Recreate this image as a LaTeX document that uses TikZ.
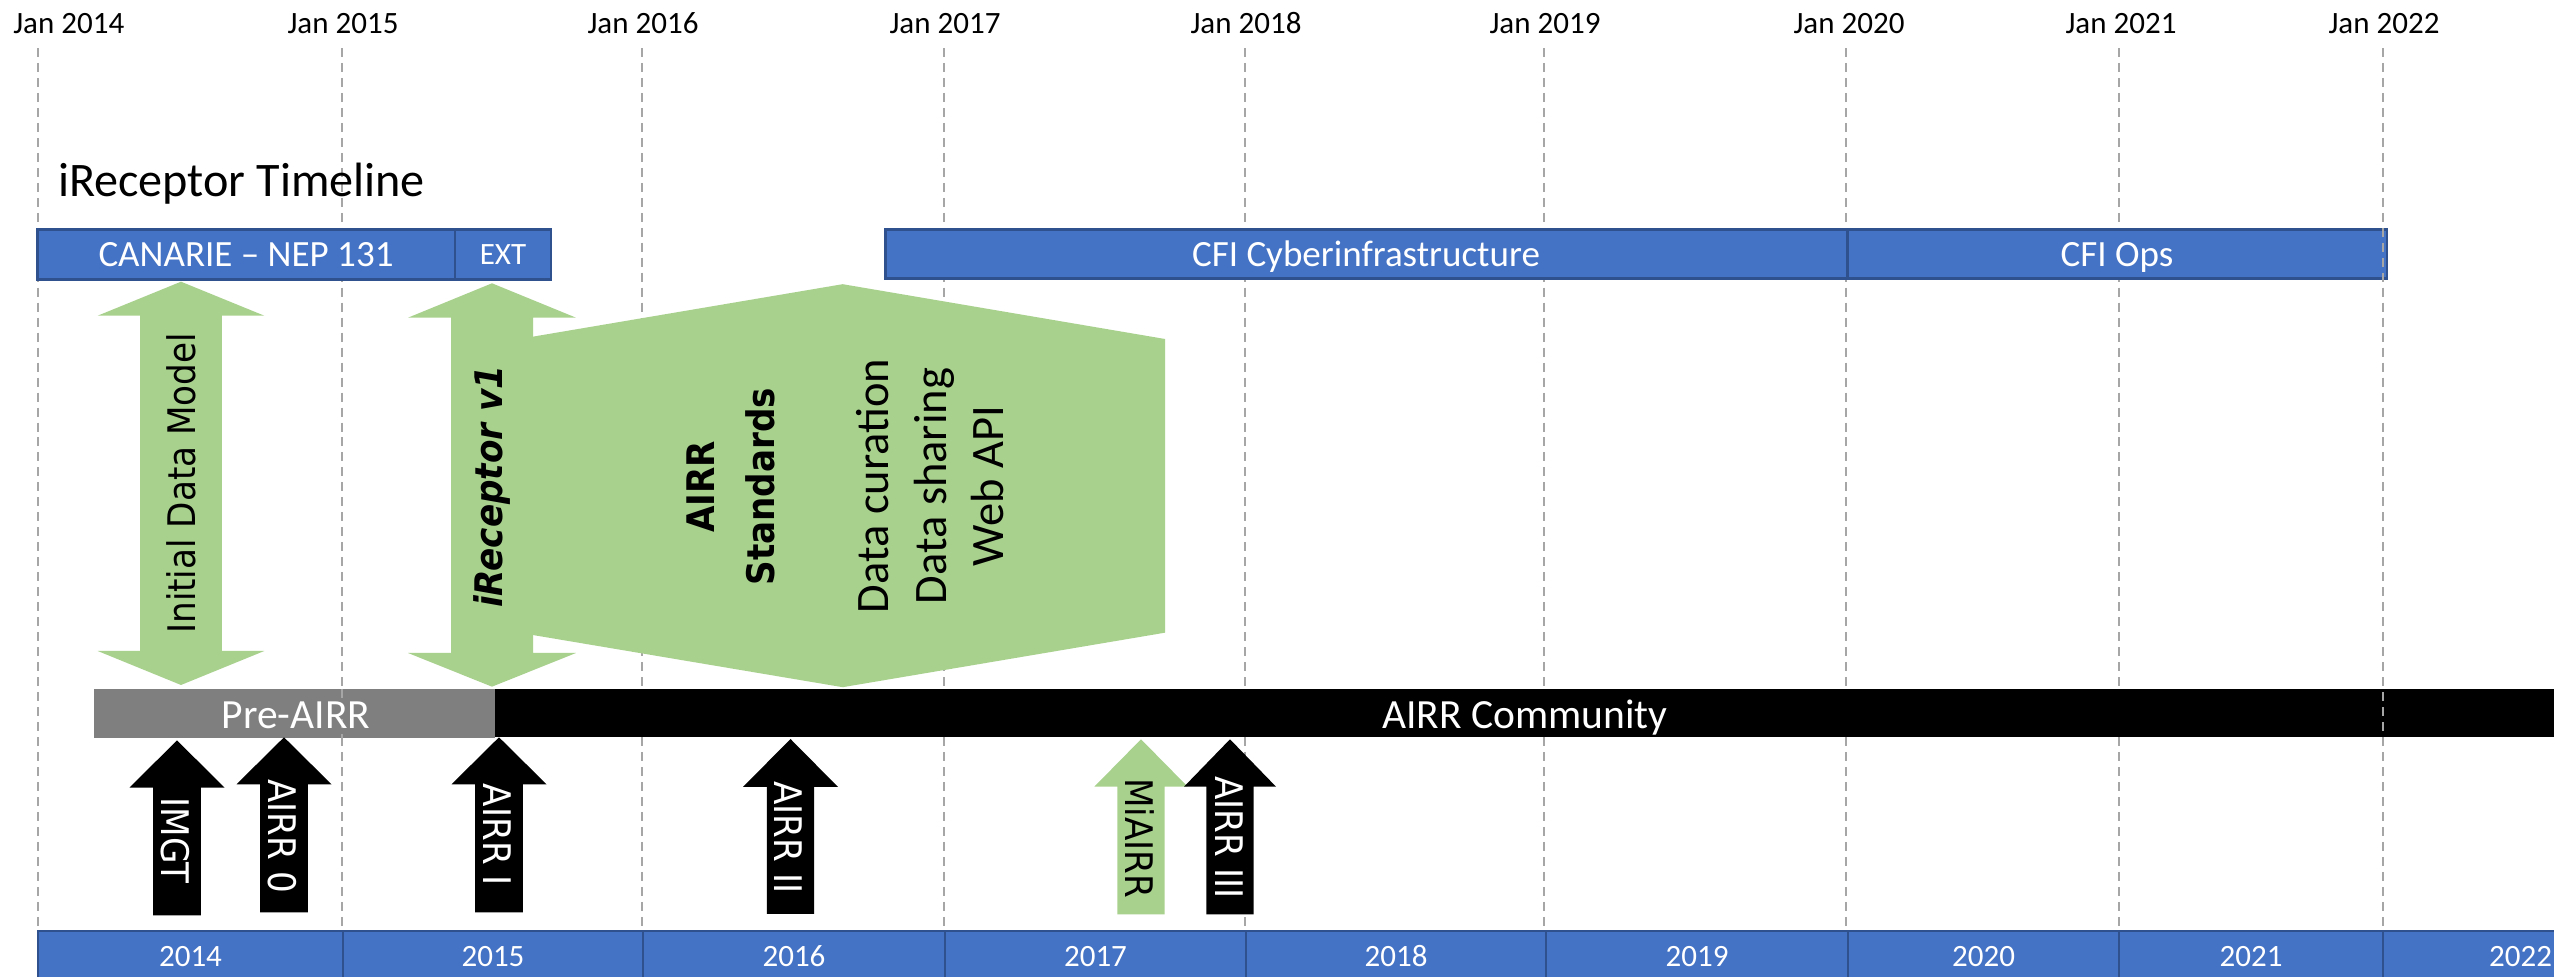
\documentclass[tikz,border=0pt]{standalone}
\usepackage{fontspec}
\setmainfont{Carlito}
\newfontfamily\arrfont[FakeStretch=0.9]{DejaVu Sans}
\definecolor{cblue}{HTML}{4472C4}
\definecolor{cblueb}{HTML}{2F528F}
\definecolor{cgreen}{HTML}{A9D18E}
\definecolor{cgray}{HTML}{7F7F7F}
\definecolor{cdash}{HTML}{A6A6A6}
% up arrow: fill, cx, apex y, head base y, bottom y, half head, half shaft
\newcommand{\UpArr}[7]{\fill[#1] (#2,#3) -- (#2+#6,#4) -- (#2+#7,#4) -- (#2+#7,#5) -- (#2-#7,#5) -- (#2-#7,#4) -- (#2-#6,#4) -- cycle;}
% double arrow: cx, top, top base, bottom base, bottom, half head, half shaft
\newcommand{\DblArr}[7]{\fill[cgreen] (#1,#2) -- (#1+#6,#3) -- (#1+#7,#3) -- (#1+#7,#4) -- (#1+#6,#4) -- (#1,#5) -- (#1-#6,#4) -- (#1-#7,#4) -- (#1-#7,#3) -- (#1-#6,#3) -- cycle;}
\begin{document}
\begin{tikzpicture}[x=0.01cm,y=-0.01cm,
  lbl/.style={font=\fontsize{8.82pt}{10pt}\selectfont, inner sep=0, anchor=base},
  bartxt/.style={font=\fontsize{10.53pt}{12pt}\selectfont, text=white, inner sep=0, anchor=base},
  bigbartxt/.style={font=\fontsize{11.81pt}{14pt}\selectfont, text=white, inner sep=0, anchor=base},
  yrtxt/.style={lbl, text=white},
  arrtxt/.style={font=\arrfont\fontsize{10.81pt}{13pt}\selectfont, inner sep=0, anchor=center},
  gridline/.style={cdash, line width=0.57pt, dash pattern=on 2.56pt off 1.7pt},
  bluebar/.style={fill=cblue, draw=cblueb, line width=0.8pt},
]
\useasboundingbox (0,0) rectangle (2554,977);
\clip (0,0) rectangle (2554,977);
\fill[white] (0,0) rectangle (2554,977);

% grid lines
\foreach \x in {38,342,642,944,1244.5,1544,1846,2119}
  \draw[gridline] (\x,48) -- (\x,931);

% Jan labels
\node[lbl, anchor=base west] (j14) at (12.6,33.3) {Jan 2014};
\foreach \x/\t in {343/2015,643/2016,945/2017,1246/2018,1545/2019,1849/2020,2121/2021,2384/2022}
  \node[lbl] (j\t) at (\x,33.3) {Jan \t};

% title
\node[font=\fontsize{13.7pt}{16pt}\selectfont, inner sep=0, anchor=base west] (title) at (57.4,197) {iReceptor Timeline};

% funding bars
\draw[bluebar] (37.5,229.3) rectangle (455,279.3);
\draw[bluebar] (455,229.3) rectangle (551,279.3);
\draw[bluebar] (885.7,229.3) rectangle (1847.5,278.7);
\draw[bluebar] (1847.5,229.3) rectangle (2387,278.7);
\node[bartxt] (canarie) at (246,266.7) {CANARIE – NEP 131};
\node[bartxt, font=\fontsize{8.82pt}{10pt}\selectfont] (ext) at (503,265) {EXT};
\node[bartxt] (cfi) at (1366,266.7) {CFI Cyberinfrastructure};
\node[bartxt] (cfiops) at (2117,266.7) {CFI Ops};

% community bars
\fill[cgray] (94,689) rectangle (495,737.7);
\fill[black] (495,689) rectangle (2600,737);
\draw[gridline] (342,689) -- (342,737.7);
\node[bigbartxt] (preairr) at (296,728.3) {Pre-AIRR};
\node[bigbartxt] (community) at (1525,728.3) {AIRR Community};

% green shapes
\DblArr{181}{281.7}{315.7}{651}{685}{83.3}{40.8}
\DblArr{492}{283.3}{317.7}{653}{686.7}{84}{41}
\fill[cgreen] (532.7,336.7) -- (842.7,284.2) -- (1165,339) -- (1165,632.7) -- (842.7,687.2) -- (532.7,635) -- cycle;

\node[arrtxt, rotate=90] (idm) at (181.5,483.3) {Initial Data Model};
\node[arrtxt, rotate=90, font=\arrfont\bfseries\itshape\fontsize{10.81pt}{13pt}\selectfont] (irv1) at (492,486.7) {iReceptor v1};
\node[arrtxt, rotate=90, align=center, font=\arrfont\bfseries\fontsize{10.81pt}{17.07pt}\selectfont] (std) at (731,486.7) {AIRR\\Standards};
\node[inner sep=0, rotate=90, align=center, font=\fontsize{13.23pt}{16.36pt}\selectfont] (items) at (930.5,486) {Data curation\\Data sharing\\Web API};

% event arrows
\UpArr{black}{177}{740.3}{787.7}{915.3}{47.5}{23.8}
\UpArr{black}{284}{737.3}{784.3}{912.3}{47.5}{23.8}
\UpArr{black}{499}{737.3}{784.3}{912.3}{47.5}{23.8}
\UpArr{black}{790.5}{739}{787}{914}{47.5}{23.6}
\UpArr{cgreen}{1141}{739.3}{786.7}{914.3}{46.7}{23.7}
\UpArr{black}{1230}{739.3}{786.7}{914.3}{46}{23.7}

\node[arrtxt, rotate=-90, text=white] (imgt) at (175.5,840.8) {IMGT};
\node[arrtxt, rotate=-90, text=white] (a0) at (282.5,836.2) {AIRR 0};
\node[arrtxt, rotate=-90, text=white] (a1) at (497.5,835) {AIRR I};
\node[arrtxt, rotate=-90, text=white] (a2) at (788.5,837.5) {AIRR II};
\node[arrtxt, rotate=-90] (miairr) at (1140,838.3) {MiAIRR};
\node[arrtxt, rotate=-90, text=white] (a3) at (1229,837.5) {AIRR III};

% year bar
\foreach \a/\b/\t in {38/343/2014,343/643/2015,643/945/2016,945/1246/2017,1246/1546/2018,1546/1848/2019,1848/2119/2020,2119/2383/2021,2383/2658/2022}{
  \draw[bluebar] (\a,931) rectangle (\b,990);
  \node[yrtxt] (y\t) at ({(\a+\b)/2},966.7) {\t};
}

% Jan 2022 grid line drawn on top
\draw[gridline] (2382.5,48) -- (2382.5,931);
\end{tikzpicture}
\end{document}
